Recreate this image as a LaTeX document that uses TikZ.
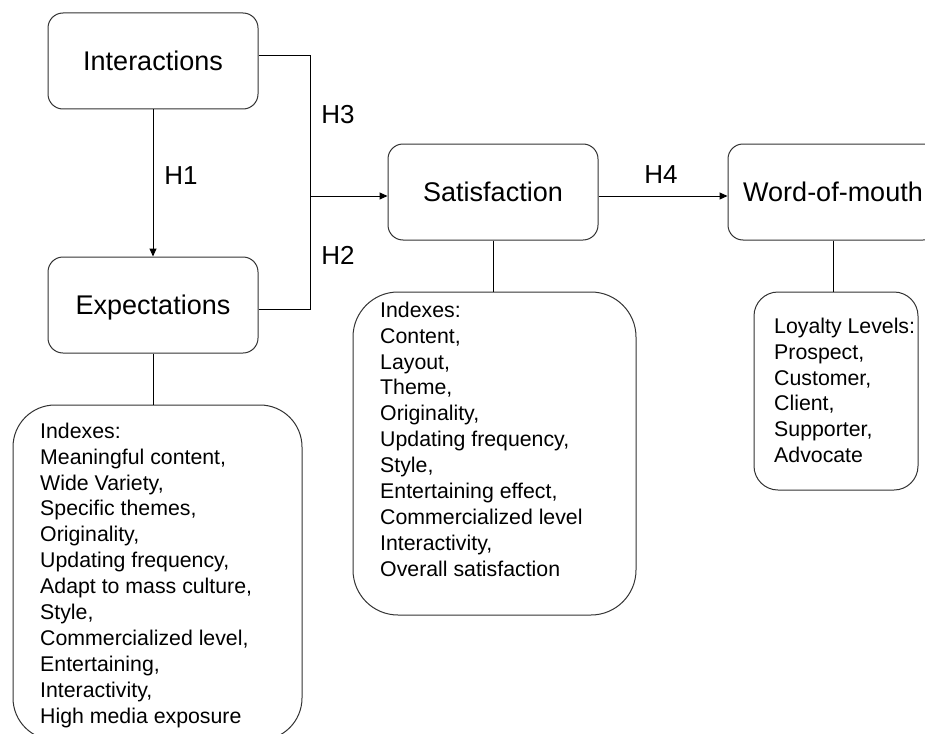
\documentclass[tikz,border=0pt]{standalone}
\usepackage{fontspec}
\setmainfont{Liberation Sans}
\usetikzlibrary{arrows.meta}
\begin{document}
\begin{tikzpicture}[x=1pt,y=-1pt,
  mainbox/.style={draw=black!80, line width=1pt, rounded corners=15pt, minimum width=210pt, minimum height=96pt, inner sep=0pt, text depth=0pt, font=\fontsize{27}{32}\selectfont},
  idxbox/.style={draw=black!80, line width=1pt, inner sep=0pt},
  idxtext/.style={anchor=north west, align=left, inner sep=0pt, font=\fontsize{21.3}{25.9}\selectfont},
  hlabel/.style={inner sep=0pt, font=\fontsize{26}{30}\selectfont},
  conn/.style={line width=1pt, black},
  arr/.style={conn, -{Triangle[length=8pt,width=7pt]}}
]
\useasboundingbox (0,0) rectangle (925,733);
\clip (0,0) rectangle (925,733);
\node[mainbox] (int) at (153,61) {Interactions};
\node[mainbox] (exp) at (153,305) {Expectations};
\node[mainbox] (sat) at (493,192) {Satisfaction};
\node[mainbox] (wom) at (833,192) {Word-of-mouth};
\node[idxbox, rounded corners=42pt, minimum width=289pt, minimum height=335pt] (ix1) at (157.5,572.5) {};
\node[idxbox, rounded corners=45pt, minimum width=283pt, minimum height=323pt] (ix2) at (494.5,453.5) {};
\node[idxbox, rounded corners=24pt, minimum width=164pt, minimum height=198pt] (ix3) at (836,391) {};
\node[idxtext] (t1) at (40,422.6) {Indexes:\\Meaningful content,\\Wide Variety,\\Specific themes,\\Originality,\\Updating frequency,\\Adapt to mass culture,\\Style,\\Commercialized level,\\Entertaining,\\Interactivity,\\High media exposure};
\node[idxtext] (t2) at (380,301.6) {Indexes:\\Content,\\Layout,\\Theme,\\Originality,\\Updating frequency,\\Style,\\Entertaining effect,\\Commercialized level\\Interactivity,\\Overall satisfaction};
\node[idxtext] (t3) at (774,317.6) {Loyalty Levels:\\Prospect,\\Customer,\\Client,\\Supporter,\\Advocate};
\coordinate (j) at (310,196);
\draw[conn] ([yshift=5pt]int.east) -| (j);
\draw[conn] ([yshift=-4pt]exp.east) -| (j);
\draw[arr] (j) -- (j -| sat.west);
\draw[arr] (int) -- (exp);
\draw[arr] ([yshift=-4pt]sat.east) -- ([yshift=-4pt]wom.west);
\draw[conn] (exp.south) -- (exp.south |- ix1.north);
\draw[conn] (sat.south) -- (sat.south |- ix2.north);
\draw[conn] (wom.south) -- (wom.south |- ix3.north);
\node[hlabel] (h1) at (181,176) {H1};
\node[hlabel] (h3) at (338,115) {H3};
\node[hlabel] (h2) at (338,255) {H2};
\node[hlabel] (h4) at (661,175) {H4};
\end{tikzpicture}
\end{document}
